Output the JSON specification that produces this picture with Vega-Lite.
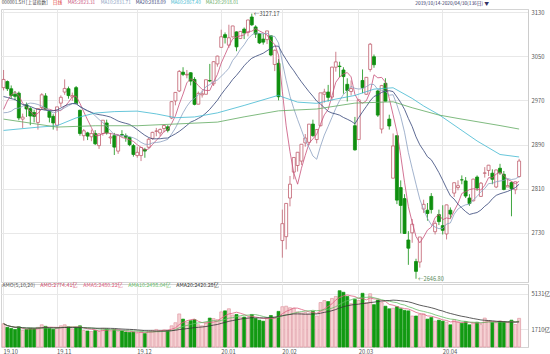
{
  "$schema": "https://vega.github.io/schema/vega-lite/v6.json",
  "padding": 0,
  "autosize": {"type": "pad"},
  "spacing": 0,
  "config": {
    "font": "Noto Sans CJK SC",
    "view": {"stroke": "#d4d4d4", "strokeWidth": 1},
    "axis": {"labelFontSize": 5.8, "labelColor": "#555555", "gridColor": "#e8e8e8", "gridWidth": 1, "domainColor": "#cccccc", "ticks": false, "labelPadding": 3},
    "legend": {"orient": "none", "direction": "horizontal", "gridAlign": "none", "symbolSize": 0, "symbolStrokeWidth": 0, "symbolOpacity": 0, "labelOffset": 0, "columnPadding": 0, "labelFontSize": 5.2, "padding": 0, "rowPadding": 0, "labelFont": "Noto Sans CJK SC"},
    "title": {"fontSize": 5, "fontWeight": "normal", "color": "#333333", "font": "Noto Sans CJK SC"}
  },
  "datasets": {
    "k": [
      {"d":"2019-09-09","c":3024.74},{"d":"2019-09-10","c":3021.20},{"d":"2019-09-11","c":3008.81},{"d":"2019-09-12","c":3031.24},{"d":"2019-09-16","c":3030.75},{"d":"2019-09-17","c":2978.12},{"d":"2019-09-18","c":2985.66},{"d":"2019-09-19","c":2999.28},{"d":"2019-09-20","c":3006.45},{"d":"2019-09-23","c":2977.08},{"d":"2019-09-24","c":2985.34},{"d":"2019-09-25","c":2955.43},{"d":"2019-09-26","c":2929.09},{"d":"2019-09-27","c":2932.17},{"d":"2019-09-30","c":2905.19},{"d":"2019-10-08","c":2913.57},{"d":"2019-10-09","c":2924.86},{"d":"2019-10-10","c":2947.71},{"d":"2019-10-11","c":2973.66},
      {"d":"2019-10-14","o":2993,"h":3025,"l":2988,"c":3007.88,"a":2250},
      {"d":"2019-10-15","o":3004,"h":3006,"l":2987,"c":2991.05,"a":1900},
      {"d":"2019-10-16","o":2991,"h":2997,"l":2973,"c":2978.71,"a":1800},
      {"d":"2019-10-17","o":2981,"h":2987,"l":2970,"c":2977.33,"a":1700},
      {"d":"2019-10-18","o":2983,"h":2986,"l":2934,"c":2938.14,"a":1950},
      {"d":"2019-10-21","o":2936,"h":2946,"l":2920,"c":2939.62,"a":1600},
      {"d":"2019-10-22","o":2962,"h":2966,"l":2940,"c":2954.38,"a":1700},
      {"d":"2019-10-23","o":2955,"h":2958,"l":2925,"c":2941.62,"a":1800},
      {"d":"2019-10-24","o":2948,"h":2953,"l":2930,"c":2940.92,"a":1750},
      {"d":"2019-10-25","o":2930,"h":2956,"l":2917,"c":2954.93,"a":1900},
      {"d":"2019-10-28","o":2957,"h":2983,"l":2954,"c":2980.05,"a":2150},
      {"d":"2019-10-29","o":2978,"h":2983,"l":2953,"c":2954.18,"a":2000},
      {"d":"2019-10-30","o":2950,"h":2952,"l":2930,"c":2939.32,"a":1800},
      {"d":"2019-10-31","o":2941,"h":2945,"l":2917,"c":2929.06,"a":1700},
      {"d":"2019-11-01","o":2925,"h":2958,"l":2915,"c":2958.20,"a":1850},
      {"d":"2019-11-04","o":2965,"h":2979,"l":2958,"c":2975.49,"a":2050},
      {"d":"2019-11-05","o":2985,"h":3008,"l":2980,"c":2991.56,"a":2150},
      {"d":"2019-11-06","o":2991,"h":2995,"l":2973,"c":2978.60,"a":1950},
      {"d":"2019-11-07","o":2976,"h":2984,"l":2969,"c":2978.71,"a":1750},
      {"d":"2019-11-08","o":2993,"h":2996,"l":2963,"c":2964.18,"a":1900},
      {"d":"2019-11-11","o":2952,"h":2953,"l":2906,"c":2909.97,"a":2050},
      {"d":"2019-11-12","o":2906,"h":2918,"l":2897,"c":2914.82,"a":1600},
      {"d":"2019-11-13","o":2911,"h":2913,"l":2898,"c":2905.24,"a":1550},
      {"d":"2019-11-14","o":2904,"h":2917,"l":2896,"c":2909.87,"a":1500},
      {"d":"2019-11-15","o":2910,"h":2916,"l":2889,"c":2891.34,"a":1600},
      {"d":"2019-11-18","o":2888,"h":2910,"l":2882,"c":2909.20,"a":1500},
      {"d":"2019-11-19","o":2910,"h":2934,"l":2906,"c":2933.99,"a":1800},
      {"d":"2019-11-20","o":2929,"h":2935,"l":2908,"c":2911.05,"a":1750},
      {"d":"2019-11-21","o":2902,"h":2911,"l":2891,"c":2903.64,"a":1550},
      {"d":"2019-11-22","o":2906,"h":2911,"l":2871,"c":2885.29,"a":1700},
      {"d":"2019-11-25","o":2878,"h":2907,"l":2873,"c":2906.17,"a":1500},
      {"d":"2019-11-26","o":2908,"h":2916,"l":2904,"c":2907.06,"a":1550},
      {"d":"2019-11-27","o":2906,"h":2910,"l":2895,"c":2903.19,"a":1450},
      {"d":"2019-11-28","o":2903,"h":2904,"l":2887,"c":2889.69,"a":1400},
      {"d":"2019-11-29","o":2888,"h":2891,"l":2868,"c":2871.98,"a":1450},
      {"d":"2019-12-02","o":2870,"h":2886,"l":2866,"c":2875.81,"a":1350},
      {"d":"2019-12-03","o":2870,"h":2885,"l":2860,"c":2884.70,"a":1450},
      {"d":"2019-12-04","o":2881,"h":2884,"l":2866,"c":2878.12,"a":1300},
      {"d":"2019-12-05","o":2885,"h":2902,"l":2883,"c":2899.47,"a":1550},
      {"d":"2019-12-06","o":2901,"h":2913,"l":2899,"c":2912.01,"a":1600},
      {"d":"2019-12-09","o":2914,"h":2920,"l":2905,"c":2914.48,"a":1700},
      {"d":"2019-12-10","o":2911,"h":2919,"l":2905,"c":2917.32,"a":1600},
      {"d":"2019-12-11","o":2919,"h":2926,"l":2912,"c":2924.42,"a":1650},
      {"d":"2019-12-12","o":2922,"h":2925,"l":2912,"c":2915.70,"a":1600},
      {"d":"2019-12-13","o":2938,"h":2968,"l":2936,"c":2967.68,"a":2050},
      {"d":"2019-12-16","o":2969,"h":2985,"l":2961,"c":2984.39,"a":2350},
      {"d":"2019-12-17","o":2987,"h":3025,"l":2985,"c":3022.42,"a":3200},
      {"d":"2019-12-18","o":3021,"h":3030,"l":3014,"c":3017.04,"a":2700},
      {"d":"2019-12-19","o":3016,"h":3025,"l":3010,"c":3017.07,"a":2400},
      {"d":"2019-12-20","o":3020,"h":3021,"l":2997,"c":3004.94,"a":2550},
      {"d":"2019-12-23","o":3008,"h":3012,"l":2961,"c":2962.75,"a":2650},
      {"d":"2019-12-24","o":2963,"h":2986,"l":2963,"c":2982.68,"a":2150},
      {"d":"2019-12-25","o":2980,"h":2988,"l":2975,"c":2981.88,"a":2050},
      {"d":"2019-12-26","o":2981,"h":3007,"l":2981,"c":3007.35,"a":2300},
      {"d":"2019-12-27","o":3006,"h":3036,"l":3003,"c":3005.04,"a":2800},
      {"d":"2019-12-30","o":3000,"h":3041,"l":2996,"c":3040.02,"a":2750},
      {"d":"2019-12-31","o":3036,"h":3051,"l":3031,"c":3050.12,"a":2650},
      {"d":"2020-01-02","o":3066,"h":3098,"l":3066,"c":3085.20,"a":3400},
      {"d":"2020-01-03","o":3089,"h":3093,"l":3073,"c":3083.79,"a":3500},
      {"d":"2020-01-06","o":3070,"h":3107,"l":3065,"c":3083.41,"a":3700},
      {"d":"2020-01-07","o":3085,"h":3105,"l":3084,"c":3104.80,"a":3100},
      {"d":"2020-01-08","o":3094,"h":3095,"l":3059,"c":3066.89,"a":3150},
      {"d":"2020-01-09","o":3082,"h":3095,"l":3081,"c":3094.88,"a":2900},
      {"d":"2020-01-10","o":3099,"h":3102,"l":3081,"c":3092.29,"a":2900},
      {"d":"2020-01-13","o":3093,"h":3116,"l":3086,"c":3115.57,"a":2800},
      {"d":"2020-01-14","o":3121,"h":3127.17,"l":3105,"c":3106.82,"a":3150},
      {"d":"2020-01-15","o":3103,"h":3106,"l":3083,"c":3090.04,"a":2750},
      {"d":"2020-01-16","o":3091,"h":3092,"l":3072,"c":3074.08,"a":2600},
      {"d":"2020-01-17","o":3081,"h":3091,"l":3071,"c":3075.50,"a":2500},
      {"d":"2020-01-20","o":3080,"h":3096,"l":3072,"c":3095.79,"a":2800},
      {"d":"2020-01-21","o":3087,"h":3087,"l":3050,"c":3052.14,"a":3050},
      {"d":"2020-01-22","o":3035,"h":3062,"l":3023,"c":3060.75,"a":2900},
      {"d":"2020-01-23","o":3037,"h":3045,"l":2970,"c":2976.53,"a":3450},
      {"d":"2020-02-03","o":2716,"h":2772,"l":2685,"c":2746.61,"a":3900},
      {"d":"2020-02-04","o":2723,"h":2784,"l":2700,"c":2783.29,"a":3950},
      {"d":"2020-02-05","o":2793,"h":2833,"l":2778,"c":2818.09,"a":3800},
      {"d":"2020-02-06","o":2840,"h":2867,"l":2827,"c":2866.51,"a":3750},
      {"d":"2020-02-07","o":2852,"h":2876,"l":2841,"c":2875.96,"a":3400},
      {"d":"2020-02-10","o":2860,"h":2890,"l":2853,"c":2890.49,"a":3300},
      {"d":"2020-02-11","o":2893,"h":2909,"l":2886,"c":2901.67,"a":3350},
      {"d":"2020-02-12","o":2894,"h":2927,"l":2889,"c":2926.90,"a":3200},
      {"d":"2020-02-13","o":2927,"h":2935,"l":2904,"c":2906.07,"a":3450},
      {"d":"2020-02-14","o":2899,"h":2918,"l":2892,"c":2917.01,"a":3000},
      {"d":"2020-02-17","o":2924,"h":2983,"l":2923,"c":2983.62,"a":4300},
      {"d":"2020-02-18","o":2981,"h":2991,"l":2966,"c":2984.97,"a":4500},
      {"d":"2020-02-19","o":2985,"h":2998,"l":2968,"c":2975.40,"a":4400},
      {"d":"2020-02-20","o":2976,"h":3031,"l":2970,"c":3030.15,"a":4700},
      {"d":"2020-02-21","o":3030,"h":3058,"l":3022,"c":3039.67,"a":4900},
      {"d":"2020-02-24","o":3032,"h":3040,"l":3012,"c":3031.23,"a":5450},
      {"d":"2020-02-25","o":3025,"h":3030,"l":2982,"c":3013.05,"a":5300},
      {"d":"2020-02-26","o":2999,"h":3010,"l":2968,"c":2987.93,"a":4900},
      {"d":"2020-02-27","o":2986,"h":3006,"l":2979,"c":2991.33,"a":4200},
      {"d":"2020-02-28","o":2924,"h":2940,"l":2879,"c":2880.30,"a":4600},
      {"d":"2020-03-02","o":2899,"h":2971,"l":2899,"c":2970.93,"a":4500},
      {"d":"2020-03-03","o":3006,"h":3026,"l":2983,"c":2992.90,"a":5200},
      {"d":"2020-03-04","o":2981,"h":3012,"l":2980,"c":3011.67,"a":4300},
      {"d":"2020-03-05","o":3026,"h":3074,"l":3022,"c":3071.68,"a":5150},
      {"d":"2020-03-06","o":3049,"h":3053,"l":3029,"c":3034.51,"a":4100},
      {"d":"2020-03-09","o":2987,"h":2989,"l":2940,"c":2943.29,"a":4550},
      {"d":"2020-03-10","o":2918,"h":2998,"l":2910,"c":2996.76,"a":4300},
      {"d":"2020-03-11","o":3001,"h":3010,"l":2968,"c":2968.52,"a":3950},
      {"d":"2020-03-12","o":2936,"h":2944,"l":2917,"c":2923.49,"a":3700},
      {"d":"2020-03-13","o":2829,"h":2910,"l":2829,"c":2887.43,"a":3750},
      {"d":"2020-03-16","o":2906,"h":2906,"l":2782,"c":2789.25,"a":3900},
      {"d":"2020-03-17","o":2812,"h":2825,"l":2729,"c":2779.64,"a":3700},
      {"d":"2020-03-18","o":2792,"h":2800,"l":2728,"c":2728.76,"a":3550},
      {"d":"2020-03-19","o":2717,"h":2733,"l":2672,"c":2702.13,"a":3500},
      {"d":"2020-03-20","o":2730,"h":2755,"l":2712,"c":2745.62,"a":3000},
      {"d":"2020-03-23","o":2678,"h":2683,"l":2646.80,"c":2660.17,"a":3000},
      {"d":"2020-03-24","o":2677,"h":2722,"l":2667,"c":2722.44,"a":3150},
      {"d":"2020-03-25","o":2773,"h":2790,"l":2766,"c":2781.59,"a":3200},
      {"d":"2020-03-26","o":2771,"h":2784,"l":2752,"c":2764.91,"a":2700},
      {"d":"2020-03-27","o":2796,"h":2802,"l":2765,"c":2772.20,"a":2850},
      {"d":"2020-03-30","o":2732,"h":2752,"l":2727,"c":2747.21,"a":2500},
      {"d":"2020-03-31","o":2763,"h":2772,"l":2744,"c":2750.30,"a":2600},
      {"d":"2020-04-01","o":2743,"h":2780,"l":2727,"c":2734.52,"a":2500},
      {"d":"2020-04-02","o":2728,"h":2781,"l":2718,"c":2780.64,"a":2400},
      {"d":"2020-04-03","o":2771,"h":2776,"l":2756,"c":2763.99,"a":2150},
      {"d":"2020-04-07","o":2802,"h":2821,"l":2795,"c":2820.76,"a":2650},
      {"d":"2020-04-08","o":2812,"h":2825,"l":2807,"c":2815.37,"a":2400},
      {"d":"2020-04-09","o":2826,"h":2834,"l":2818,"c":2825.90,"a":2300},
      {"d":"2020-04-10","o":2824,"h":2831,"l":2793,"c":2796.63,"a":2450},
      {"d":"2020-04-13","o":2793,"h":2800,"l":2779,"c":2783.05,"a":2150},
      {"d":"2020-04-14","o":2788,"h":2828,"l":2787,"c":2827.28,"a":2350},
      {"d":"2020-04-15","o":2831,"h":2834,"l":2806,"c":2811.17,"a":2400},
      {"d":"2020-04-16","o":2796,"h":2822,"l":2795,"c":2819.94,"a":2175},
      {"d":"2020-04-17","o":2838,"h":2849,"l":2830,"c":2838.49,"a":2800},
      {"d":"2020-04-20","o":2843,"h":2853,"l":2833,"c":2852.55,"a":2550},
      {"d":"2020-04-21","o":2838,"h":2845,"l":2818,"c":2827.01,"a":2400},
      {"d":"2020-04-22","o":2813,"h":2844,"l":2811,"c":2843.98,"a":2350},
      {"d":"2020-04-23","o":2847,"h":2855,"l":2835,"c":2838.50,"a":2479.3},
      {"d":"2020-04-24","o":2836,"h":2842,"l":2807,"c":2808.53,"a":2450},
      {"d":"2020-04-27","o":2813,"h":2828,"l":2813,"c":2815.49,"a":2400},
      {"d":"2020-04-28","o":2821,"h":2823,"l":2760,"c":2810.02,"a":2600},
      {"d":"2020-04-29","o":2808,"h":2823,"l":2800,"c":2822.44,"a":2176.7},
      {"d":"2020-04-30","o":2832,"h":2864,"l":2830,"c":2860.08,"a":2774.41}
    ],
    "ma": [
      {"d":"2019-10-14","s":"ma60","v":2915.5},{"d":"2019-10-25","s":"ma60","v":2921.4},{"d":"2019-11-01","s":"ma60","v":2924},{"d":"2019-11-08","s":"ma60","v":2938.2},{"d":"2019-11-15","s":"ma60","v":2947},{"d":"2019-11-22","s":"ma60","v":2949.6},{"d":"2019-12-02","s":"ma60","v":2950.5},{"d":"2019-12-09","s":"ma60","v":2945.4},{"d":"2019-12-16","s":"ma60","v":2938.6},{"d":"2019-12-23","s":"ma60","v":2939.9},{"d":"2019-12-31","s":"ma60","v":2947.3},{"d":"2020-01-10","s":"ma60","v":2960.8},{"d":"2020-01-23","s":"ma60","v":2979.2},{"d":"2020-02-03","s":"ma60","v":2976.2},{"d":"2020-02-07","s":"ma60","v":2966.8},{"d":"2020-02-14","s":"ma60","v":2964.6},{"d":"2020-02-21","s":"ma60","v":2972.3},{"d":"2020-02-28","s":"ma60","v":2978.9},{"d":"2020-03-06","s":"ma60","v":2990.3},{"d":"2020-03-13","s":"ma60","v":2992.8},{"d":"2020-03-20","s":"ma60","v":2973.5},{"d":"2020-03-25","s":"ma60","v":2959.8},{"d":"2020-03-31","s":"ma60","v":2944.1},{"d":"2020-04-08","s":"ma60","v":2920.3},{"d":"2020-04-15","s":"ma60","v":2896.4},{"d":"2020-04-23","s":"ma60","v":2871.9},{"d":"2020-04-30","s":"ma60","v":2867.4},
      {"d":"2019-10-14","s":"ma120","v":2936},{"d":"2019-11-01","s":"ma120","v":2921.6},{"d":"2019-11-15","s":"ma120","v":2924},{"d":"2019-12-02","s":"ma120","v":2924},{"d":"2019-12-31","s":"ma120","v":2930.6},{"d":"2020-01-10","s":"ma120","v":2940.1},{"d":"2020-01-23","s":"ma120","v":2951},{"d":"2020-02-14","s":"ma120","v":2954.3},{"d":"2020-02-28","s":"ma120","v":2965},{"d":"2020-03-13","s":"ma120","v":2967.4},{"d":"2020-03-20","s":"ma120","v":2956.6},{"d":"2020-03-31","s":"ma120","v":2943.4},{"d":"2020-04-08","s":"ma120","v":2937.2},{"d":"2020-04-23","s":"ma120","v":2924.3},{"d":"2020-04-30","s":"ma120","v":2918.01}
    ],
    "notes": [
      {"d":"2020-01-14","v":3127.17,"t":"←3127.17"},
      {"d":"2020-03-23","v":2646.80,"t":"←2646.80"}
    ]
  },
  "vconcat": [
    {
      "width": 527,
      "height": 273,
      "title": {"text": "2019/10/14-2020/04/30(136日) ▼", "anchor": "end", "frame": "group", "offset": 3, "dx": -39, "fontSize": 4.8, "fontWeight": "normal", "color": "#333366"},
      "encoding": {
        "x": {"field": "d", "type": "ordinal", "title": null,
          "scale": {"type": "band", "paddingInner": 0, "paddingOuter": 1.71, "align": 0.086},
          "axis": {"labels": false, "ticks": false, "domain": false, "grid": true, "bandPosition": 0.5,
            "values": ["2019-10-14","2019-11-01","2019-12-02","2020-01-02","2020-02-03","2020-03-02","2020-04-01"]}}
      },
      "layer": [
        {
          "data": {"name": "k"},
          "transform": [{"filter": "datum.d >= '2019-10-14'"}],
          "mark": {"type": "rule", "strokeWidth": 0.8},
          "encoding": {
            "y": {"field": "l", "type": "quantitative", "title": null,
              "scale": {"domain": [2640.9, 3135.5], "nice": false, "zero": false},
              "axis": {"orient": "right", "values": [2730, 2810, 2890, 2970, 3050, 3130], "format": "d", "grid": true, "domain": true, "labelAlign": "left", "labelBaseline": "middle"}},
            "y2": {"field": "h"},
            "color": {"condition": {"test": "datum.c >= datum.o", "value": "#c0606e"}, "value": "#0f8f0f"}
          }
        },
        {
          "data": {"name": "k"},
          "transform": [{"filter": "datum.d >= '2019-10-14'"}],
          "mark": {"type": "bar", "width": {"band": 0.78}, "strokeWidth": 0.8},
          "encoding": {
            "y": {"field": "o", "type": "quantitative", "title": null},
            "y2": {"field": "c"},
            "fill": {"condition": {"test": "datum.c >= datum.o", "value": "#ffffff"}, "value": "#0f8f0f"},
            "stroke": {"condition": {"test": "datum.c >= datum.o", "value": "#c0606e"}, "value": "#0f8f0f"}
          }
        },
        {
          "data": {"name": "k"},
          "transform": [
            {"window": [{"op": "mean", "field": "c", "as": "ma5"}], "frame": [-4, 0], "sort": [{"field": "d"}]},
            {"window": [{"op": "mean", "field": "c", "as": "ma10"}], "frame": [-9, 0], "sort": [{"field": "d"}]},
            {"window": [{"op": "mean", "field": "c", "as": "ma20"}], "frame": [-19, 0], "sort": [{"field": "d"}]},
            {"filter": "datum.d >= '2019-10-14'"},
            {"fold": ["ma5", "ma10", "ma20"], "as": ["s", "v"]}
          ],
          "mark": {"type": "line", "strokeWidth": 0.8},
          "encoding": {
            "y": {"field": "v", "type": "quantitative", "title": null},
            "color": {"field": "s", "type": "nominal",
              "scale": {"domain": ["h0", "h1", "ma5", "ma10", "ma20", "ma60", "ma120"],
                        "range": ["#444444", "#dd3333", "#c8507a", "#8aa0c0", "#334477", "#40b8d0", "#5faa5f"]},
              "legend": {"title": null, "legendX": 0, "legendY": -8.5, "symbolType": "circle", "symbolSize": 0, "labelOffset": -4, "labelFontSize": 4.7, "columnPadding": 4,
                "labelExpr": "{'h0':'000001.SH [上证指数]','h1':'日线','ma5':'MA5:2823.31','ma10':'MA10:2831.71','ma20':'MA20:2818.09','ma60':'MA60:2867.40','ma120':'MA120:2918.01'}[datum.value]",
                "labelColor": {"expr": "scale('color', datum.value)"}}}
          }
        },
        {
          "data": {"name": "ma"},
          "mark": {"type": "line", "strokeWidth": 0.8},
          "encoding": {
            "y": {"field": "v", "type": "quantitative", "title": null},
            "color": {"field": "s", "type": "nominal"}
          }
        },
        {
          "data": {"name": "notes"},
          "mark": {"type": "text", "align": "left", "baseline": "middle", "dx": 2, "fontSize": 5.6},
          "encoding": {
            "y": {"field": "v", "type": "quantitative", "title": null},
            "text": {"field": "t"},
            "color": {"condition": {"test": "datum.v > 3000", "value": "#444444"}, "value": "#5a8a5a"}
          }
        }
      ]
    },
    {
      "width": 527,
      "height": 63,
      "encoding": {
        "x": {"field": "d", "type": "ordinal", "title": null,
          "scale": {"type": "band", "paddingInner": 0, "paddingOuter": 1.71, "align": 0.086},
          "axis": {"labelExpr": "substring(datum.value,2,4) + '.' + substring(datum.value,5,7)", "labelAlign": "left", "labelAngle": 0, "grid": true, "ticks": false, "domain": false, "bandPosition": 0.5, "labelPadding": 1,
            "values": ["2019-10-14","2019-11-01","2019-12-02","2020-01-02","2020-02-03","2020-03-02","2020-04-01"]}}
      },
      "layer": [
        {
          "data": {"name": "k"},
          "transform": [{"filter": "datum.d >= '2019-10-14'"}],
          "mark": {"type": "bar", "width": {"band": 0.78}, "strokeWidth": 0.7},
          "encoding": {
            "y": {"field": "a", "type": "quantitative", "title": null,
              "scale": {"domain": [0, 6099], "nice": false},
              "axis": {"orient": "right", "values": [1710.33, 3420.67, 5131], "grid": true, "labelExpr": "format(datum.value, 'd') + '亿'", "labelAlign": "left", "labelBaseline": "middle"}},
            "fill": {"condition": {"test": "datum.c >= datum.o", "value": "#f6d2d4"}, "value": "#129a12"},
            "stroke": {"condition": {"test": "datum.c >= datum.o", "value": "#e09aa4"}, "value": "#129a12"}
          }
        },
        {
          "data": {"name": "k"},
          "transform": [
            {"filter": "datum.d >= '2019-10-14'"},
            {"window": [{"op": "mean", "field": "a", "as": "ama5"}], "frame": [-4, 0], "sort": [{"field": "d"}]},
            {"window": [{"op": "mean", "field": "a", "as": "ama10"}], "frame": [-9, 0], "sort": [{"field": "d"}]},
            {"window": [{"op": "mean", "field": "a", "as": "ama20"}], "frame": [-19, 0], "sort": [{"field": "d"}]},
            {"fold": ["ama5", "ama10", "ama20"], "as": ["s", "v"]}
          ],
          "mark": {"type": "line", "strokeWidth": 0.8},
          "encoding": {
            "y": {"field": "v", "type": "quantitative", "title": null},
            "stroke": {"field": "s", "type": "nominal",
              "scale": {"domain": ["g0", "g1", "ama5", "ama10", "ama20"],
                        "range": ["#555555", "#d04a6a", "#e06080", "#66bb66", "#333333"]},
              "legend": {"title": null, "legendX": 0, "legendY": 273, "symbolType": "circle", "symbolSize": 0, "labelOffset": -4, "labelFontSize": 5.3, "columnPadding": 4,
                "labelExpr": "{'g0':'AMO(5,10,20)','g1':'AMO:2774.41亿','ama5':'AMA5:2480.22亿','ama10':'AMA10:2498.04亿','ama20':'AMA20:2420.28亿'}[datum.value]",
                "labelColor": {"expr": "scale('stroke', datum.value)"}}}
          }
        }
      ]
    }
  ]
}
